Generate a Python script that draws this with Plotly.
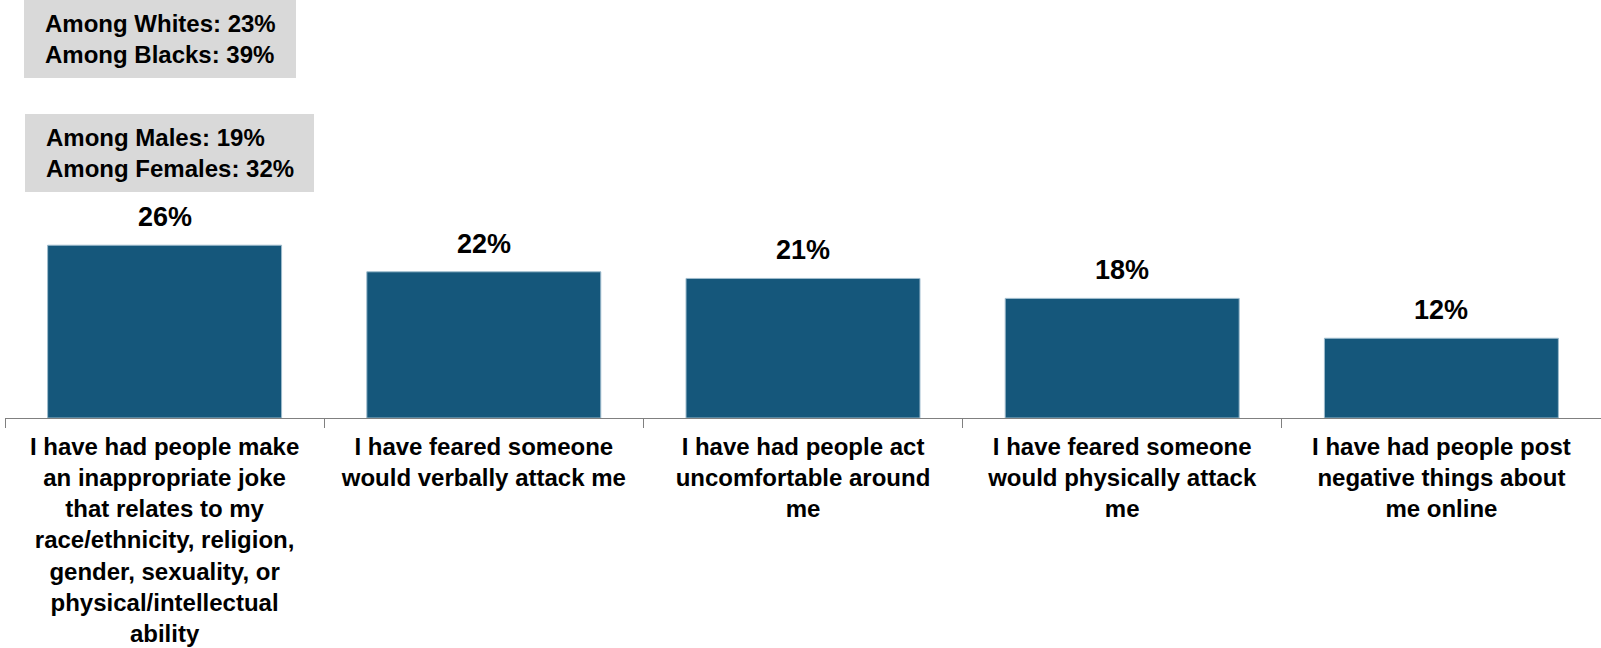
import plotly.graph_objects as go

categories = [
    "I have had people make<br>an inappropriate joke<br>that relates to my<br>race/ethnicity, religion,<br>gender, sexuality, or<br>physical/intellectual<br>ability",
    "I have feared someone<br>would verbally attack me",
    "I have had people act<br>uncomfortable around<br>me",
    "I have feared someone<br>would physically attack<br>me",
    "I have had people post<br>negative things about<br>me online",
]
values = [26, 22, 21, 18, 12]
value_labels = ["26%", "22%", "21%", "18%", "12%"]
box_texts = [
    "Among Whites: 23%<br>Among Blacks: 39%",
    "Among Males: 19%<br>Among Females: 32%",
]

FONT = "Liberation Sans, Arial, sans-serif"
BAR = "#15577b"

fig = go.Figure()
fig.add_trace(go.Bar(
    x=categories, y=values,
    marker=dict(color=BAR, line=dict(color="#9fbccd", width=1)),
    hoverinfo="skip",
))

# value labels above bars
for c, v, t in zip(categories, values, value_labels):
    fig.add_annotation(x=c, y=v, text="<b>%s</b>" % t, showarrow=False,
                       yanchor="bottom", yshift=11,
                       font=dict(family=FONT, size=27, color="#000000"))

# plot area: x 5..1601 px, y 0..418 px
W, H, L = 1596.0, 418.0, 5.0
def px(x):
    return (x - L) / W
def py(y):
    return (H - y) / H

boxes = [(24, 0, 296, 78), (25, 114, 314, 192)]
for (x0, y0, x1, y1), txt in zip(boxes, box_texts):
    fig.add_shape(type="rect", xref="paper", yref="paper",
                  x0=px(x0), x1=px(x1), y0=py(y1), y1=py(y0),
                  fillcolor="#d9d9d9", line=dict(width=0), layer="above")
    fig.add_annotation(xref="paper", yref="paper", x=px(x0 + 19), y=py((y0 + y1) / 2),
                       xanchor="left", yanchor="middle", align="left",
                       text="<b>%s</b>" % txt, showarrow=False,
                       font=dict(family=FONT, size=24, color="#000000"))

fig.update_layout(
    width=1601, height=648, autosize=False,
    margin=dict(l=5, r=0, t=0, b=230, autoexpand=False),
    plot_bgcolor="white", paper_bgcolor="white",
    bargap=0.267, showlegend=False,
    font=dict(family=FONT, color="#000000"),
)
fig.update_xaxes(
    type="category", showline=True, linecolor="#808080", linewidth=1,
    ticks="outside", tickson="boundaries", ticklen=9, tickcolor="#808080",
    tickfont=dict(family=FONT, size=24, color="#000000", weight="bold"),
    ticklabelstandoff=7, automargin=False,
    showgrid=False, fixedrange=True,
)
fig.update_yaxes(range=[0, 62.9], visible=False, showgrid=False, fixedrange=True,
                 automargin=False)

fig.write_html(
    "out.html",
    config={"displayModeBar": False, "staticPlot": True},
    post_script="document.body.style.margin='0';document.body.style.overflow='hidden';",
)
